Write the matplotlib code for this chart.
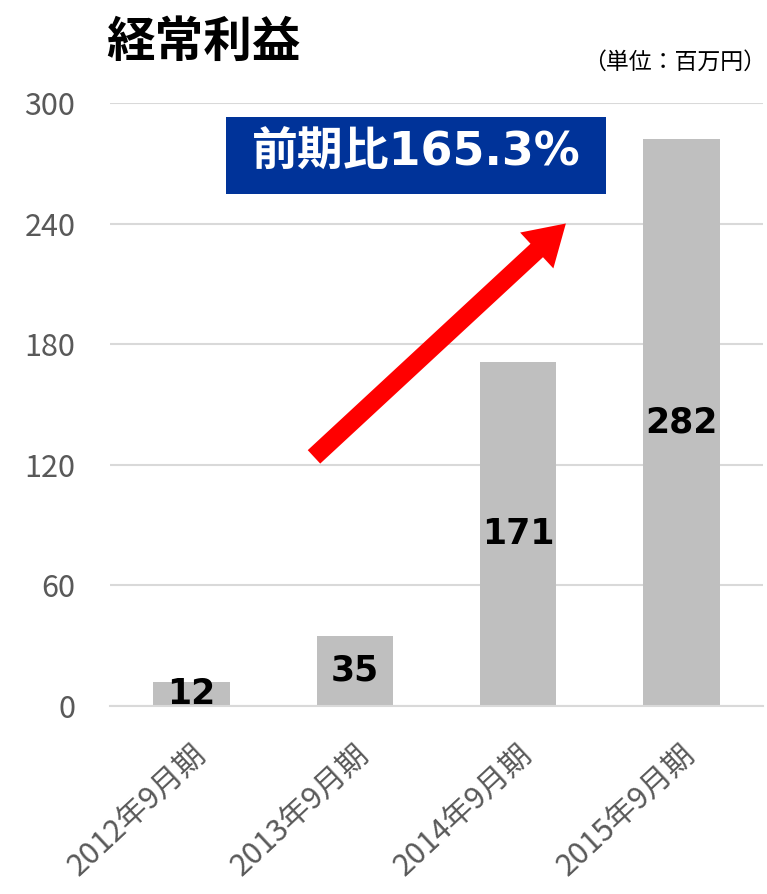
import matplotlib
matplotlib.use("Agg")
import matplotlib.pyplot as plt
from matplotlib.patches import Rectangle

plt.rcParams['font.family'] = ['Noto Sans CJK JP', 'DejaVu Sans']

periods = ['2012年9月期', '2013年9月期', '2014年9月期', '2015年9月期']
profit = [12, 35, 171, 282]
yticks = [0, 60, 120, 180, 240, 300]
title = '経常利益'
unit = '（単位：百万円）'
growth = '前期比165.3%'

fig = plt.figure(figsize=(7.67, 8.94), dpi=100)
ax = fig.add_axes([110/767, 1-706/894, 653/767, 603/894])

x = range(len(periods))
ax.bar(x, profit, width=0.47, color='#BFBFBF', zorder=2)
for i, v in enumerate(profit):
    ax.text(i, v/2, str(v), ha='center', va='center', fontsize=25,
            fontweight='bold', color='black', family='DejaVu Sans', zorder=3)

ax.set_xlim(-0.5, 3.5)
ax.set_ylim(0, 300)
ax.set_yticks(yticks)
ax.set_yticklabels([str(t) for t in yticks], fontsize=22, color='#595959')
ax.set_xticks(list(x))
ax.set_xticklabels(periods, rotation=43, ha='right', va='top',
                   rotation_mode='anchor', fontsize=22, color='#595959')
ax.tick_params(axis='both', length=0)
ax.tick_params(axis='x', pad=24)
ax.tick_params(axis='y', pad=25)

ax.grid(axis='y', color='#D9D9D9', linewidth=1.5, zorder=0)
for s in ['top', 'right', 'left']:
    ax.spines[s].set_visible(False)
ax.spines['bottom'].set_color('#D9D9D9')
ax.spines['bottom'].set_linewidth(1.5)

# growth arrow
ax.annotate('', xy=(2.305, 241), xytext=(0.737, 123),
            arrowprops=dict(arrowstyle='simple,head_length=1.3,head_width=1.6,tail_width=0.6',
                            color='#FF0000', lw=0, mutation_scale=22), zorder=4)

# growth box
ax.add_patch(Rectangle((0.211, 254.7), 2.327, 38.3, facecolor='#003399',
                       edgecolor='none', zorder=5))
ax.text(1.374, 275, growth, ha='center', va='center', fontsize=33,
        fontweight='bold', color='white', zorder=6,
        family=['DejaVu Sans', 'Noto Sans CJK JP'])

fig.text(106/767, 1-42/894, title, ha='left', va='center', fontsize=35,
         fontweight='bold', color='black')
fig.text(766/767, 1-62/894, unit, ha='right', va='center', fontsize=16.5,
         color='black')

fig.savefig('out.png', dpi=100)
